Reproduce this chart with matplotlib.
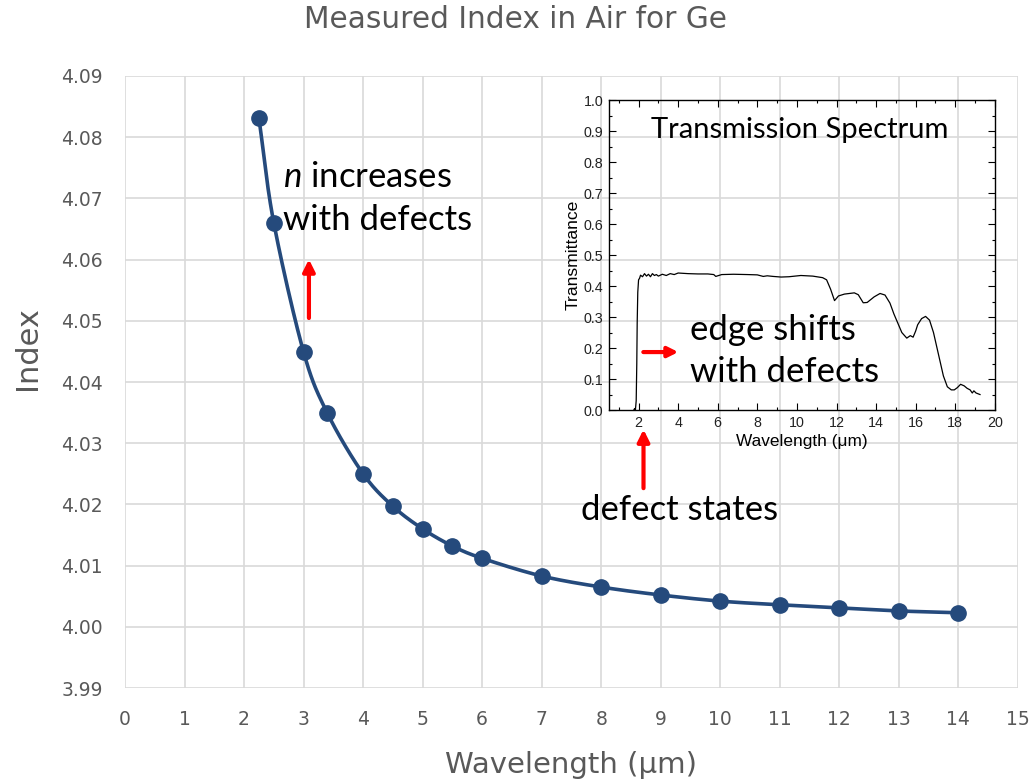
import numpy as np
import matplotlib.pyplot as plt

# Measured refractive index of Ge in air
wavelength = [2.25, 2.5, 3.0, 3.4, 4.0, 4.5, 5.0, 5.5, 6.0, 7.0, 8.0, 9.0, 10.0, 11.0, 12.0, 13.0, 14.0]
index = [4.0831, 4.0660, 4.0449, 4.0349, 4.0250, 4.0197, 4.0160, 4.0132, 4.0112,
         4.0083, 4.0065, 4.0052, 4.0042, 4.0036, 4.0031, 4.0026, 4.0023]

# Transmission spectrum (inset)
t_wl = [1.76, 1.80, 1.84, 1.88, 1.91, 1.93, 1.96, 2.0, 2.05, 2.1, 2.2, 2.3, 2.4, 2.5, 2.6, 2.7,
        2.8, 2.9, 3.0, 3.2, 3.4, 3.6, 3.8, 4.0, 4.5, 5.0, 5.5, 5.8, 5.9, 6.2, 6.8, 7.5, 8.0,
        8.3, 8.5, 8.8, 9.2, 9.6, 10.2, 10.8, 11.3, 11.5, 11.7, 11.9, 12.1, 12.4, 12.9, 13.1,
        13.35, 13.55, 13.9, 14.2, 14.45, 14.7, 14.9, 15.1, 15.3, 15.55, 15.73, 15.87, 16.0,
        16.1, 16.3, 16.5, 16.7, 16.9, 17.15, 17.4, 17.6, 17.8, 17.95, 18.1, 18.27, 18.45,
        18.6, 18.75, 18.86, 18.94, 19.05, 19.25]
t_val = [0.0, 0.005, 0.0, 0.03, 0.15, 0.28, 0.38, 0.42, 0.425, 0.435, 0.43, 0.44, 0.432,
         0.438, 0.43, 0.44, 0.434, 0.437, 0.432, 0.438, 0.434, 0.44, 0.437, 0.442, 0.44,
         0.439, 0.439, 0.437, 0.431, 0.437, 0.438, 0.437, 0.436, 0.431, 0.433, 0.431, 0.429,
         0.43, 0.434, 0.432, 0.427, 0.42, 0.39, 0.353, 0.368, 0.374, 0.378, 0.372, 0.346,
         0.347, 0.365, 0.376, 0.371, 0.345, 0.31, 0.28, 0.25, 0.232, 0.24, 0.235, 0.255,
         0.275, 0.295, 0.302, 0.29, 0.25, 0.18, 0.11, 0.075, 0.065, 0.065, 0.072, 0.083,
         0.078, 0.07, 0.065, 0.055, 0.062, 0.055, 0.05]


def smooth(x, y, n=30):
    # Excel-style smoothed line (Catmull-Rom through the points)
    x = np.asarray(x, float)
    y = np.asarray(y, float)
    px = np.concatenate([[2 * x[0] - x[1]], x, [2 * x[-1] - x[-2]]])
    py = np.concatenate([[2 * y[0] - y[1]], y, [2 * y[-1] - y[-2]]])
    t = np.linspace(0, 1, n)
    xs, ys = [], []
    for i in range(1, len(px) - 2):
        for p, out in ((px, xs), (py, ys)):
            p0, p1, p2, p3 = p[i - 1], p[i], p[i + 1], p[i + 2]
            out.append(0.5 * (2 * p1 + (-p0 + p2) * t + (2 * p0 - 5 * p1 + 4 * p2 - p3) * t ** 2
                              + (-p0 + 3 * p1 - 3 * p2 + p3) * t ** 3))
    return np.concatenate(xs), np.concatenate(ys)


plt.rcParams['font.family'] = ['DejaVu Sans']
plt.rcParams['mathtext.fontset'] = 'custom'
plt.rcParams['mathtext.it'] = 'Lato:italic'
plt.rcParams['mathtext.rm'] = 'Lato'
gray = '#595959'
blue = '#254a7c'
lato = ['Lato', 'DejaVu Sans']
arial = ['Liberation Sans', 'DejaVu Sans']

fig = plt.figure(figsize=(10.32, 7.84), dpi=100)
ax = fig.add_axes([0.1211, 0.1224, 0.8653, 0.7807])

sx, sy = smooth(wavelength, index)
ax.plot(sx, sy, color=blue, lw=2.6, zorder=3)
ax.plot(wavelength, index, 'o', color=blue, ms=11, zorder=4)

ax.set_xlim(0, 15)
ax.set_ylim(3.99, 4.09)
ax.set_xticks(range(0, 16))
ax.set_yticks(np.arange(3.99, 4.0901, 0.01))
ax.yaxis.set_major_formatter(plt.FormatStrFormatter('%.2f'))
ax.grid(True, color='#d9d9d9', lw=1.2)
for s in ax.spines.values():
    s.set_visible(False)
ax.tick_params(length=0, labelsize=13.5, labelcolor=gray)
ax.tick_params(axis='y', pad=16)
ax.tick_params(axis='x', pad=16)
ax.set_xlabel('Wavelength (μm)', fontsize=21, color=gray, va='center')
ax.xaxis.set_label_coords(0.5, -0.126)
ax.set_ylabel('Index', fontsize=22, color=gray, va='center')
ax.yaxis.set_label_coords(-0.109, 0.556)
fig.text(0.5, 0.9745, 'Measured Index in Air for Ge', ha='center', va='center',
         fontsize=21.3, color=gray)

# annotations on the main chart
ax.text(2.66, 4.0700, '$n$ increases\nwith defects', fontsize=25, color='black',
        family=lato, va='center', linespacing=1.42, zorder=5)
ax.annotate('', xy=(3.09, 4.0605), xytext=(3.09, 4.050),
            arrowprops=dict(arrowstyle='-|>,head_width=0.35,head_length=0.7', color='red', lw=3))

# inset: transmission spectrum
ins = fig.add_axes([0.590, 0.477, 0.374, 0.3954])
ins.set_facecolor('none')
ins.plot(t_wl, t_val, color='black', lw=0.9)
ins.set_xlim(0.5, 20)
ins.set_ylim(0, 1.0)
ins.set_xticks(range(2, 21, 2))
ins.set_xticks(range(1, 21), minor=True)
ins.set_yticks(np.arange(0, 1.01, 0.1))
ins.set_yticks(np.arange(0.05, 1.0, 0.1), minor=True)
ins.yaxis.set_major_formatter(plt.FormatStrFormatter('%.1f'))
ins.tick_params(which='both', direction='in', top=True, right=True, labelsize=10.3, pad=4)
ins.tick_params(which='major', length=5, width=0.8)
ins.tick_params(which='minor', length=2.5, width=0.8)
for lab in ins.get_xticklabels() + ins.get_yticklabels():
    lab.set_family(arial)
    lab.set_color('#222222')
for s in ins.spines.values():
    s.set_linewidth(1.0)
ins.set_xlabel('Wavelength (μm)', fontsize=12.4, family=arial, labelpad=3)
ins.set_ylabel('Transmittance', fontsize=12.6, family=arial, labelpad=2)
ins.text(0.495, 0.903, 'Transmission Spectrum', transform=ins.transAxes, ha='center',
         va='center', fontsize=21, family=lato)
ins.text(4.6, 0.19, 'edge shifts\nwith defects', fontsize=25, family=lato,
         va='center', linespacing=1.4)
ins.annotate('', xy=(4.15, 0.187), xytext=(2.1, 0.187),
             arrowprops=dict(arrowstyle='-|>,head_width=0.3,head_length=0.6', color='red', lw=3))

# "defect states" arrow below the inset
ax.annotate('', xy=(8.71, 4.0327), xytext=(8.71, 4.0222),
            arrowprops=dict(arrowstyle='-|>,head_width=0.35,head_length=0.7', color='red', lw=3),
            annotation_clip=False)
ax.text(9.31, 4.0191, 'defect states', fontsize=25, family=lato,
        ha='center', va='center')

fig.savefig('out.png', dpi=100)
